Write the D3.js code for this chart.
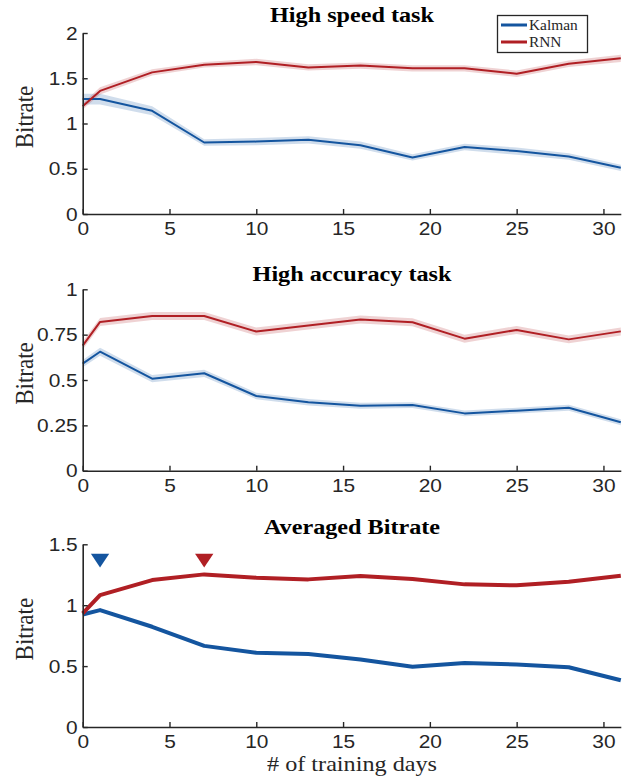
<!DOCTYPE html>
<html><head><meta charset="utf-8">
<script src="https://cdn.jsdelivr.net/npm/d3@7"></script>
<style>body{margin:0;background:#fff}svg{display:block}</style>
</head><body>
<svg id="chart" width="634" height="781"></svg>
<script>
// ---- data ----
const days = [0, 1, 4, 7, 10, 13, 16, 19, 22, 25, 28, 31];
const xTicks = [0, 5, 10, 15, 20, 25, 30];

const speedKalman    = [1.27, 1.27, 1.14, 0.79, 0.80, 0.82, 0.76, 0.625, 0.74, 0.695, 0.635, 0.51];
const speedKalmanErr = [0.06, 0.06, 0.05, 0.035, 0.04, 0.04, 0.04, 0.035, 0.035, 0.04, 0.035, 0.035];
const speedRNN       = [1.19, 1.36, 1.565, 1.65, 1.68, 1.62, 1.64, 1.61, 1.61, 1.55, 1.66, 1.72];
const speedRNNErr    = [0.035, 0.04, 0.035, 0.03, 0.035, 0.035, 0.035, 0.035, 0.035, 0.035, 0.035, 0.04];

const accKalman    = [0.59, 0.656, 0.507, 0.537, 0.412, 0.377, 0.358, 0.362, 0.316, 0.331, 0.347, 0.267];
const accKalmanErr = [0.02, 0.022, 0.02, 0.02, 0.018, 0.018, 0.016, 0.016, 0.016, 0.016, 0.016, 0.016];
const accRNN       = [0.69, 0.82, 0.853, 0.853, 0.767, 0.80, 0.833, 0.818, 0.728, 0.776, 0.724, 0.768];
const accRNNErr    = [0.022, 0.022, 0.022, 0.022, 0.022, 0.022, 0.022, 0.022, 0.022, 0.022, 0.022, 0.022];

const avgKalman = [0.924, 0.96, 0.823, 0.666, 0.609, 0.60, 0.554, 0.494, 0.526, 0.513, 0.491, 0.384];
const avgRNN    = [0.932, 1.083, 1.206, 1.253, 1.226, 1.212, 1.239, 1.215, 1.171, 1.163, 1.193, 1.242];
const markerDays   = [1, 7];
const markerSeries = ["Kalman", "RNN"];
const markerLevel  = 1.385;

const panelTitles = ["High speed task", "High accuracy task", "Averaged Bitrate"];
const yTicks1 = [0, 0.5, 1, 1.5, 2];
const yTicks2 = [0, 0.25, 0.5, 0.75, 1];
const yTicks3 = [0, 0.5, 1, 1.5];
const seriesNames = ["Kalman", "RNN"];
const xLabel = "# of training days";
const yLabel = "Bitrate";

// ---- style ----
const BLUE = "#14559f", RED = "#b01f24";
const BLUE_BAND = "rgba(20,85,159,0.2)", RED_BAND = "rgba(176,31,36,0.2)";
const AXIS = "#262626";
const SX = 1.1;
const colorOf = {Kalman: BLUE, RNN: RED};

const svg = d3.select("#chart");
const x = d3.scaleLinear().domain([0, 31]).range([82.7, 620.8]);

function stretch(textSel) {
  textSel.each(function () {
    const t = d3.select(this);
    const tx = +t.attr("x") || 0, ty = +t.attr("y") || 0;
    t.attr("x", 0).attr("y", 0).attr("transform", `translate(${tx},${ty}) scale(${SX},1)`);
  });
}

const panels = [
  {title: panelTitles[0], yMax: 2, ticks: yTicks1, top: 33, bottom: 214, titleY: 22,
   series: [[speedKalman, speedKalmanErr, "Kalman"], [speedRNN, speedRNNErr, "RNN"]], lw: 2},
  {title: panelTitles[1], yMax: 1, ticks: yTicks2, top: 289.3, bottom: 470.7, titleY: 281,
   series: [[accKalman, accKalmanErr, "Kalman"], [accRNN, accRNNErr, "RNN"]], lw: 2},
  {title: panelTitles[2], yMax: 1.5, ticks: yTicks3, top: 544.3, bottom: 727, titleY: 534,
   series: [[avgKalman, null, "Kalman"], [avgRNN, null, "RNN"]], lw: 4},
];

panels.forEach((p, pi) => {
  const y = d3.scaleLinear().domain([0, p.yMax]).range([p.bottom, p.top]);
  const g = svg.append("g");

  // bands
  p.series.forEach(([vals, errs, name]) => {
    if (!errs) return;
    const area = d3.area().x((d, i) => x(days[i])).y0((d, i) => y(vals[i] - errs[i])).y1((d, i) => y(vals[i] + errs[i]));
    g.append("path").datum(vals).attr("d", area)
      .attr("fill", name === "Kalman" ? BLUE_BAND : RED_BAND).attr("stroke", "none");
  });
  // lines
  p.series.forEach(([vals, errs, name]) => {
    const line = d3.line().x((d, i) => x(days[i])).y(d => y(d));
    g.append("path").datum(vals).attr("d", line)
      .attr("fill", "none").attr("stroke", colorOf[name]).attr("stroke-width", p.lw)
      .attr("stroke-linejoin", "round");
  });

  // axes
  const xa = g.append("g").attr("transform", `translate(0,${p.bottom})`)
    .call(d3.axisBottom(x).tickValues(xTicks).tickFormat(d3.format("d")).tickSize(-5).tickSizeOuter(0).tickPadding(8));
  const ya = g.append("g").attr("transform", `translate(${x(0)},0)`)
    .call(d3.axisLeft(y).tickValues(p.ticks).tickFormat(d => String(d)).tickSize(-5).tickSizeOuter(0).tickPadding(5));
  [xa, ya].forEach(a => {
    a.select(".domain").attr("stroke", AXIS).attr("stroke-width", 1.6);
    a.selectAll(".tick line").attr("stroke", AXIS).attr("stroke-width", 1.4);
    a.selectAll(".tick text").attr("fill", AXIS).attr("font-family", "'Liberation Sans', Arial, sans-serif").attr("font-size", 19);
    stretch(a.selectAll(".tick text"));
  });

  // title
  svg.append("text").attr("transform", `translate(352,${p.titleY}) scale(${SX},1)`)
    .attr("text-anchor", "middle").attr("font-family", "'Liberation Serif', 'Times New Roman', serif")
    .attr("font-weight", "bold").attr("font-size", 22).attr("fill", "#000").text(p.title);

  // y label
  const cy = (p.top + p.bottom) / 2 - 6.5;
  svg.append("text").attr("transform", `translate(33,${cy}) scale(${SX},1) rotate(-90)`)
    .attr("text-anchor", "middle").attr("font-family", "'Liberation Serif', 'Times New Roman', serif")
    .attr("font-size", 23).attr("fill", AXIS).text(yLabel);

  // markers on averaged panel
  if (pi === 2) {
    const tri = d3.symbol().type(d3.symbolTriangle).size(110);
    markerDays.forEach((d, i) => {
      g.append("path").attr("d", tri())
        .attr("transform", `translate(${x(d)},${y(markerLevel)}) scale(1.15,-1)`)
        .attr("fill", colorOf[markerSeries[i]]);
    });
    svg.append("text").attr("transform", `translate(352,771) scale(${SX},1)`)
      .attr("text-anchor", "middle").attr("font-family", "'Liberation Serif', 'Times New Roman', serif")
      .attr("font-size", 22).attr("fill", AXIS).text(xLabel);
  }
});

// legend
const lg = svg.append("g");
lg.append("rect").attr("x", 497.5).attr("y", 15.5).attr("width", 90).attr("height", 37)
  .attr("fill", "#fff").attr("stroke", AXIS).attr("stroke-width", 1.3);
seriesNames.forEach((n, i) => {
  const yy = 25 + i * 17;
  lg.append("line").attr("x1", 501).attr("x2", 527).attr("y1", yy).attr("y2", yy)
    .attr("stroke", colorOf[n]).attr("stroke-width", 3);
  lg.append("text").attr("transform", `translate(529,${yy + 5}) scale(${SX},1)`)
    .attr("font-family", "'Liberation Serif', 'Times New Roman', serif").attr("font-size", 14)
    .attr("fill", AXIS).text(n);
});
</script>
</body></html>
